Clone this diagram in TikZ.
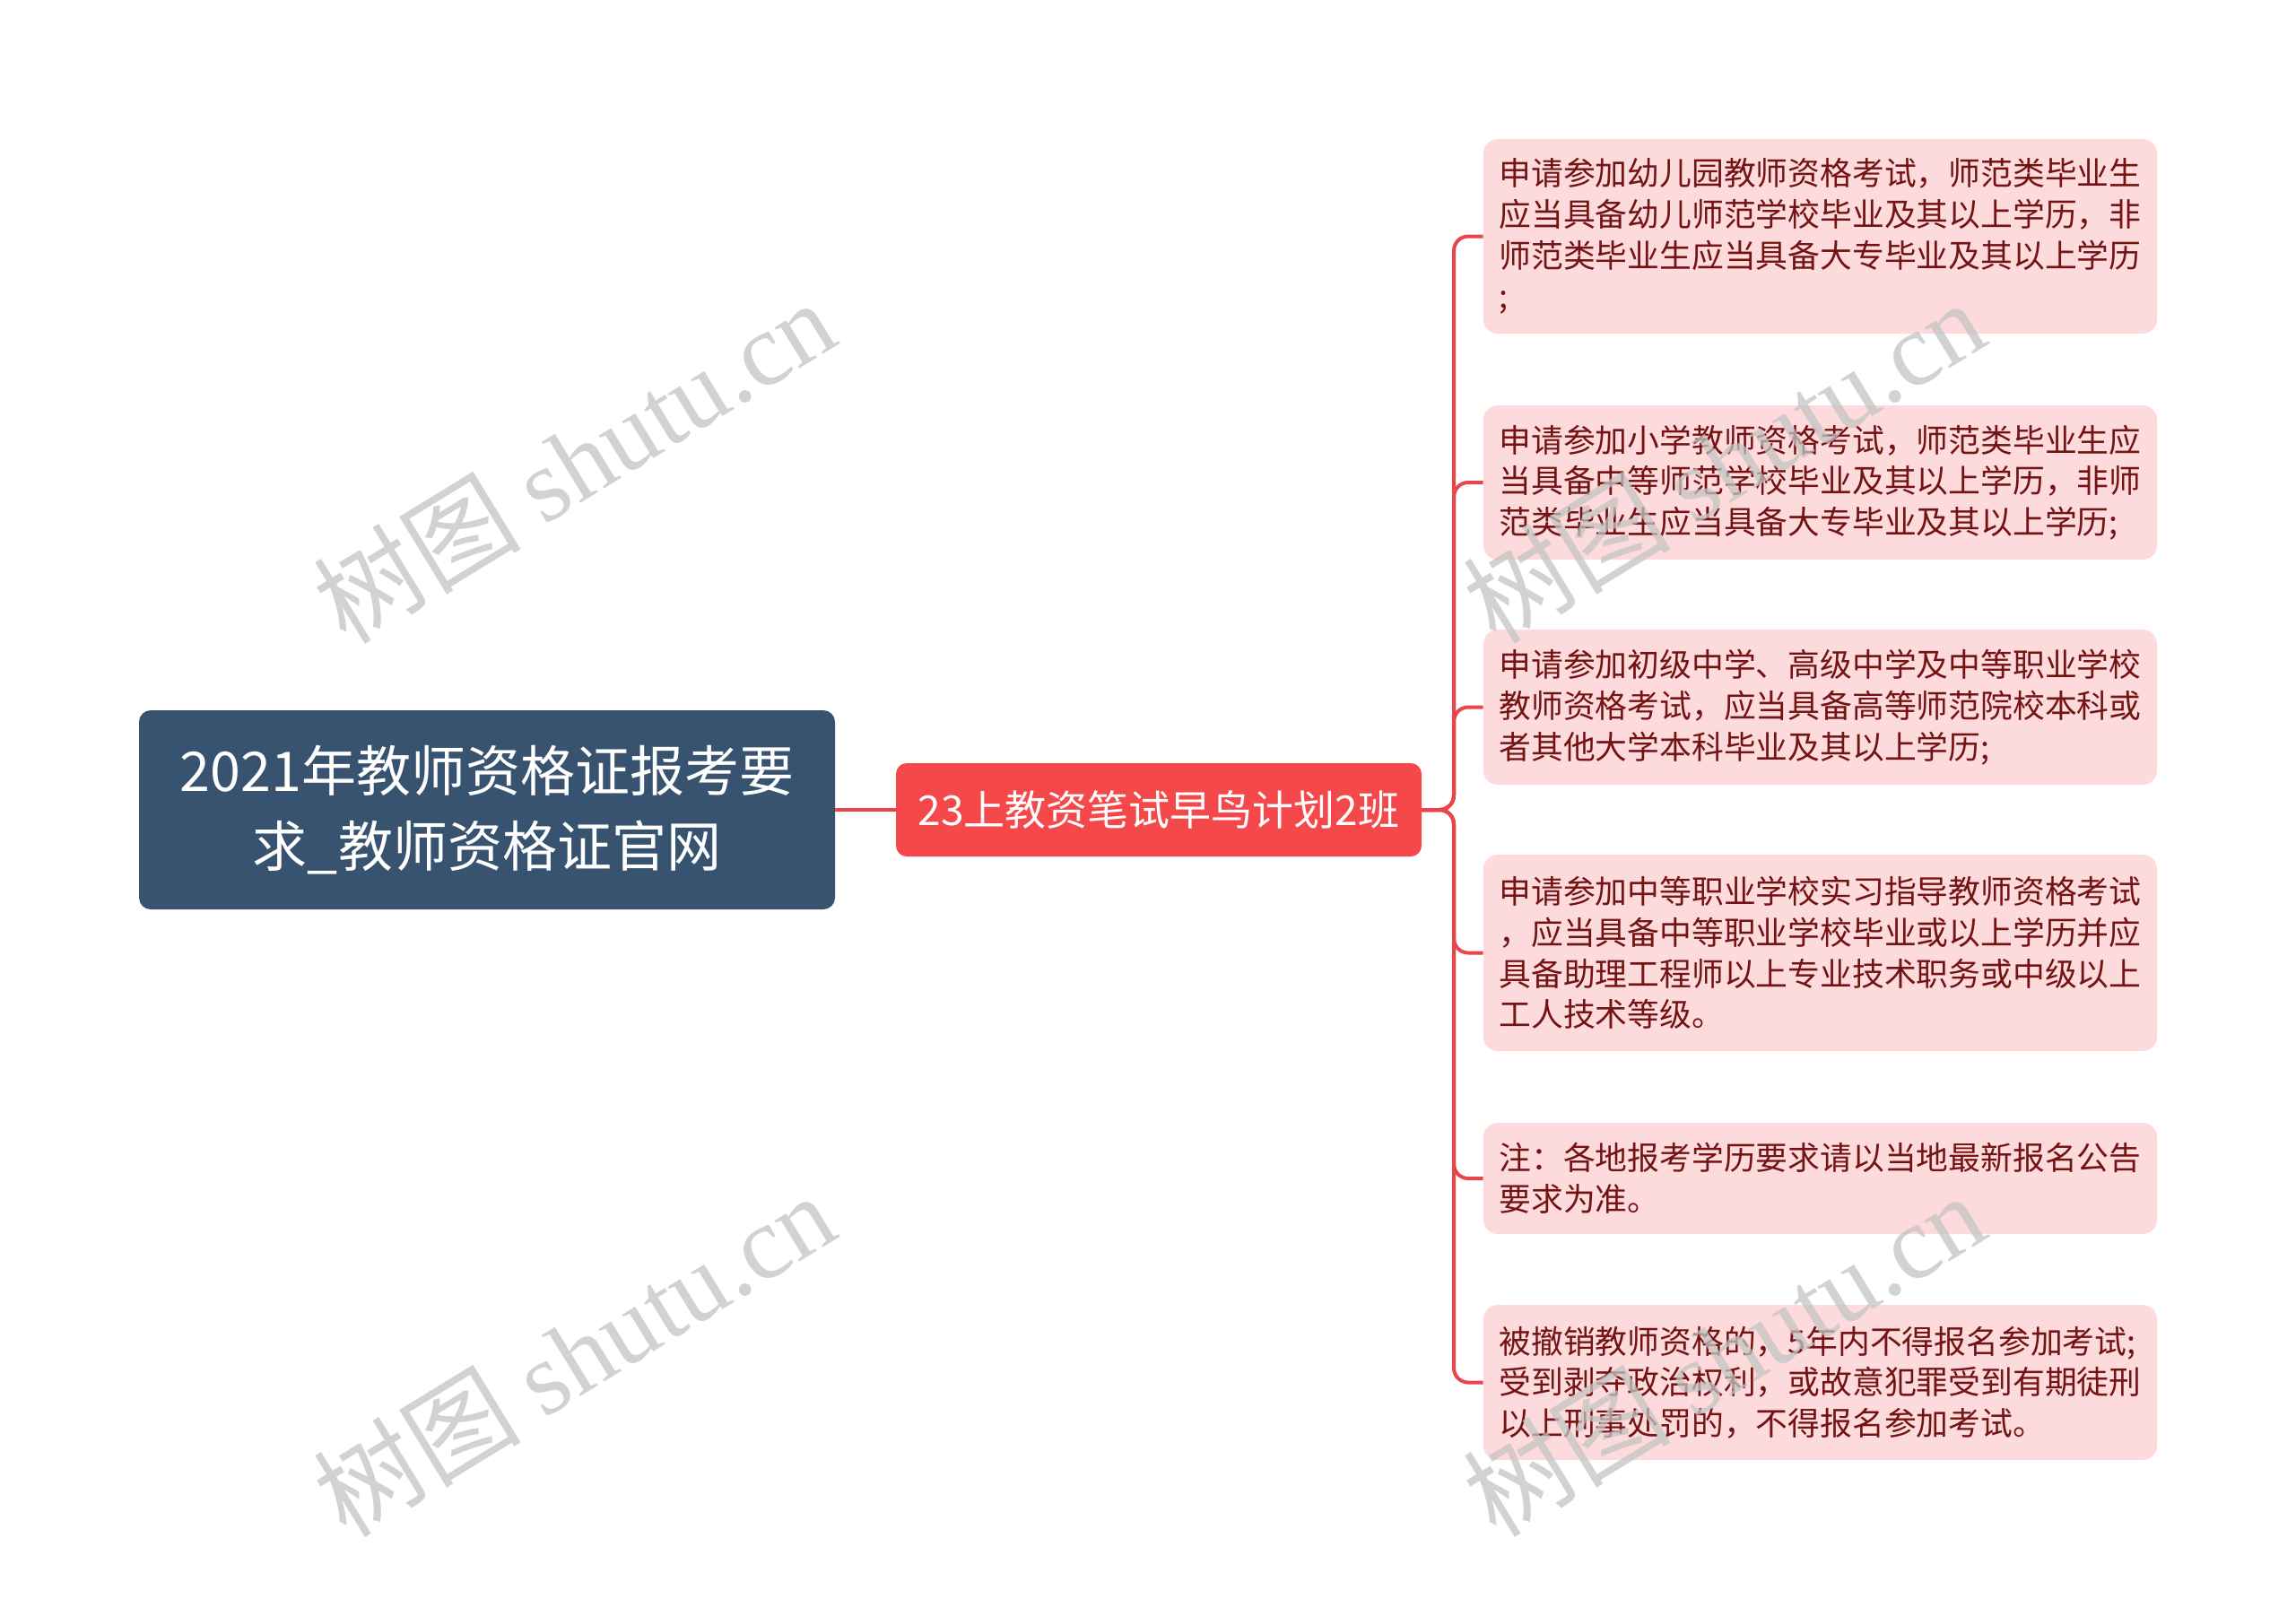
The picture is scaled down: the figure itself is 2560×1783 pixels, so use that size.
\documentclass[tikz,border=0pt]{standalone}
\usepackage{fontspec}
\setmainfont{Noto Sans CJK SC}
\newfontfamily\wmserif{Liberation Serif}
\usetikzlibrary{positioning}
\definecolor{rootfill}{HTML}{37536F}
\definecolor{midfill}{HTML}{F5484A}
\definecolor{leaffill}{HTML}{FDDADB}
\definecolor{leaftext}{HTML}{741313}
\definecolor{linkcol}{HTML}{E9454A}
\definecolor{wmgray}{HTML}{C4C4C4}
\tikzset{
  rootbox/.style={fill=rootfill, rounded corners=6.5pt, text=white, align=center,
    minimum width=388pt, minimum height=111pt, inner sep=0pt,
    font=\fontsize{30.5pt}{41.6pt}\selectfont},
  midbox/.style={fill=midfill, rounded corners=6pt, text=white, align=center,
    minimum width=293pt, minimum height=52pt, inner sep=0pt,
    font=\fontsize{23pt}{28pt}\selectfont},
  leafbox/.style={fill=leaffill, rounded corners=8pt, text=leaftext, align=left,
    text width=358pt, inner xsep=8.75pt, inner ysep=0pt,
    font=\fontsize{17.9pt}{22.85pt}\selectfont},
  link/.style={draw=linkcol, line width=2pt, rounded corners=8pt},
  wmark/.style={text=wmgray, opacity=0.75, rotate=31.5, inner sep=0pt,
    font=\fontsize{58pt}{60pt}\selectfont}
}
\begin{document}
\begin{tikzpicture}[x=0.5pt,y=-0.5pt]
\useasboundingbox[fill=white] (0,0) rectangle (2560,1783);

\node[rootbox] (root) at (543,903) {2021年教师资格证报考要\\求\_教师资格证官网};
\node[midbox] (mid) at (1292,903) {23上教资笔试早鸟计划2班};

\node[leafbox, minimum height=108.5pt] (l1) at (2029.5,263.5) {申请参加幼儿园教师资格考试，师范类毕业生\\应当具备幼儿师范学校毕业及其以上学历，非\\师范类毕业生应当具备大专毕业及其以上学历\\;};
\node[leafbox, minimum height=86pt] (l2) at (2029.5,538) {申请参加小学教师资格考试，师范类毕业生应\\当具备中等师范学校毕业及其以上学历，非师\\范类毕业生应当具备大专毕业及其以上学历;};
\node[leafbox, minimum height=86.5pt] (l3) at (2029.5,788.5) {申请参加初级中学、高级中学及中等职业学校\\教师资格考试，应当具备高等师范院校本科或\\者其他大学本科毕业及其以上学历;};
\node[leafbox, minimum height=109.5pt] (l4) at (2029.5,1062.5) {申请参加中等职业学校实习指导教师资格考试\\，应当具备中等职业学校毕业或以上学历并应\\具备助理工程师以上专业技术职务或中级以上\\工人技术等级。};
\node[leafbox, minimum height=62pt] (l5) at (2029.5,1314) {注：各地报考学历要求请以当地最新报名公告\\要求为准。};
\node[leafbox, minimum height=86.5pt] (l6) at (2029.5,1541.5) {被撤销教师资格的，5年内不得报名参加考试;\\受到剥夺政治权利，或故意犯罪受到有期徒刑\\以上刑事处罚的，不得报名参加考试。};

\draw[link] (root.east) -- (mid.west);
\coordinate (trunk) at (1621,903);
\foreach \l in {l1,l2,l3,l4,l5,l6}{
  \draw[link] (mid.east) -- (trunk) |- (\l.west);
}

\node[wmark] (w1) at (640,514) {树图 {\wmserif shutu.cn}};
\node[wmark] (w2) at (640,1510) {树图 {\wmserif shutu.cn}};
\node[wmark] (w3) at (1922,514) {树图 {\wmserif shutu.cn}};
\node[wmark] (w4) at (1922,1510) {树图 {\wmserif shutu.cn}};
\end{tikzpicture}
\end{document}
